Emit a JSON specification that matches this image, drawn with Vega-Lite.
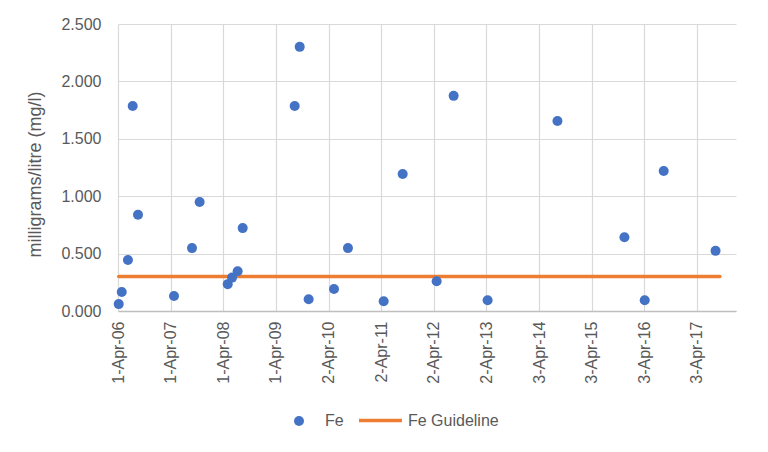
{
  "$schema": "https://vega.github.io/schema/vega-lite/v6.json",
  "width": 618,
  "height": 287,
  "autosize": {"type": "none"},
  "padding": {"left": 118, "top": 24, "right": 32, "bottom": 141},
  "background": "white",
  "config": {
    "view": {"stroke": null},
    "font": "Liberation Sans",
    "axis": {"labelColor": "#595959", "titleColor": "#595959", "gridColor": "#D9D9D9", "gridWidth": 1.2, "ticks": false, "labelFontSize": 16},
    "legend": {"labelColor": "#595959", "labelFontSize": 16, "padding": 0}
  },
  "datasets": {
    "fe": [
      {"date": "2006-04-06", "Fe": 0.06},
      {"date": "2006-04-27", "Fe": 0.165},
      {"date": "2006-06-09", "Fe": 0.445},
      {"date": "2006-07-12", "Fe": 1.786},
      {"date": "2006-08-18", "Fe": 0.838},
      {"date": "2007-04-25", "Fe": 0.131},
      {"date": "2007-08-28", "Fe": 0.548},
      {"date": "2007-10-20", "Fe": 0.95},
      {"date": "2008-05-02", "Fe": 0.234},
      {"date": "2008-06-01", "Fe": 0.291},
      {"date": "2008-07-10", "Fe": 0.346},
      {"date": "2008-08-14", "Fe": 0.722},
      {"date": "2009-08-10", "Fe": 1.786},
      {"date": "2009-09-14", "Fe": 2.301},
      {"date": "2009-11-15", "Fe": 0.102},
      {"date": "2010-05-10", "Fe": 0.192},
      {"date": "2010-08-15", "Fe": 0.548},
      {"date": "2011-04-20", "Fe": 0.085},
      {"date": "2011-08-30", "Fe": 1.193},
      {"date": "2012-04-22", "Fe": 0.259},
      {"date": "2012-08-18", "Fe": 1.874},
      {"date": "2013-04-11", "Fe": 0.093},
      {"date": "2014-08-09", "Fe": 1.655},
      {"date": "2015-11-17", "Fe": 0.643},
      {"date": "2016-04-06", "Fe": 0.093},
      {"date": "2016-08-16", "Fe": 1.219},
      {"date": "2017-08-11", "Fe": 0.524}
    ],
    "guide": [
      {"date": "2006-04-06", "value": 0.3},
      {"date": "2017-09-10", "value": 0.3}
    ]
  },
  "layer": [
    {
      "data": {"name": "guide"},
      "mark": {"type": "line", "strokeWidth": 3.5, "strokeCap": "round"},
      "encoding": {
        "x": {
          "field": "date", "type": "temporal",
          "scale": {"type": "utc", "domain": [{"year": 2006, "month": 4, "date": 1, "utc": true}, {"year": 2017, "month": 12, "date": 31, "utc": true}], "nice": false},
          "axis": {
            "title": null,
            "format": "%-d-%b-%y",
            "labelAngle": -90,
            "labelPadding": 10,
            "grid": true,
            "domainColor": "#BFBFBF",
            "domainWidth": 1.3,
            "values": [
              {"year": 2006, "month": 4, "date": 1, "utc": true},
              {"year": 2007, "month": 4, "date": 1, "utc": true},
              {"year": 2008, "month": 4, "date": 1, "utc": true},
              {"year": 2009, "month": 4, "date": 1, "utc": true},
              {"year": 2010, "month": 4, "date": 2, "utc": true},
              {"year": 2011, "month": 4, "date": 2, "utc": true},
              {"year": 2012, "month": 4, "date": 2, "utc": true},
              {"year": 2013, "month": 4, "date": 2, "utc": true},
              {"year": 2014, "month": 4, "date": 3, "utc": true},
              {"year": 2015, "month": 4, "date": 3, "utc": true},
              {"year": 2016, "month": 4, "date": 3, "utc": true},
              {"year": 2017, "month": 4, "date": 3, "utc": true}
            ]
          }
        },
        "y": {
          "field": "value", "type": "quantitative",
          "scale": {"domain": [0, 2.5], "nice": false},
          "axis": {
            "title": "milligrams/litre (mg/l)",
            "values": [0, 0.5, 1, 1.5, 2, 2.5],
            "format": ".3f",
            "domain": false,
            "labelPadding": 17,
            "titleFontSize": 18,
            "titleFontWeight": "normal",
            "titleX": -83,
            "titleY": 150,
            "titleBaseline": "middle",
            "titleAlign": "center"
          }
        },
        "stroke": {
          "datum": "Fe Guideline",
          "scale": {"range": ["#ED7D31"]},
          "legend": {"title": null, "orient": "none", "legendX": 239, "legendY": 373, "symbolType": "stroke", "symbolSize": 1849, "symbolStrokeWidth": 3.5, "labelOffset": 4}
        }
      }
    },
    {
      "data": {"name": "fe"},
      "mark": {"type": "point", "filled": true, "size": 100, "opacity": 1},
      "encoding": {
        "x": {"field": "date", "type": "temporal"},
        "y": {"field": "Fe", "type": "quantitative"},
        "color": {
          "datum": "Fe",
          "scale": {"range": ["#4472C4"]},
          "legend": {"title": null, "orient": "none", "legendX": 173, "legendY": 389, "symbolType": "circle", "symbolSize": 100, "labelOffset": 18}
        }
      }
    }
  ]
}
